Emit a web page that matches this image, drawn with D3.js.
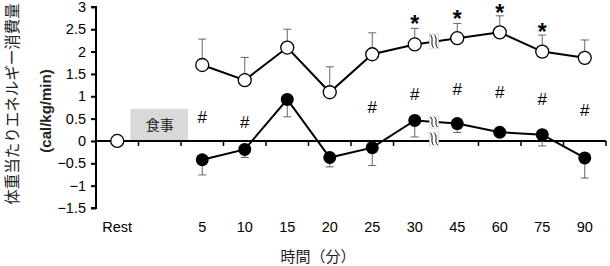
<!DOCTYPE html>
<html><head><meta charset="utf-8">
<script src="https://cdn.jsdelivr.net/npm/d3@7"></script>
<style>body{margin:0;background:#fff}svg{display:block}</style>
</head><body>
<svg id="c" width="610" height="266"></svg>
<script>
const categories = ["Rest", "", "5", "10", "15", "20", "25", "30", "45", "60", "75", "90"];
const openCats = ["5", "10", "15", "20", "25", "30", "45", "60", "75", "90"];
const openVals = [1.70, 1.36, 2.09, 1.09, 1.94, 2.16, 2.30, 2.43, 2.00, 1.86];
const openErr  = [0.58, 0.51, 0.41, 0.57, 0.48, 0.36, 0.33, 0.37, 0.37, 0.40];
const fillVals = [-0.42, -0.19, 0.93, -0.37, -0.15, 0.46, 0.39, 0.195, 0.14, -0.38];
const fillErr  = [0.34, 0.18, 0.39, 0.21, 0.40, 0.37, 0.20, 0.0, 0.25, 0.45];
const restVal = 0;
const starCats = ["30", "45", "60", "75"];
const starVals = [2.71, 2.81, 2.95, 2.53];
const hashCats = ["5", "10", "25", "30", "45", "60", "75", "90"];
const hashVals = [0.53, 0.42, 0.75, 1.04, 1.17, 1.09, 0.95, 0.70];
const yTicks = [3, 2.5, 2, 1.5, 1, 0.5, 0, -0.5, -1, -1.5];

const svg = d3.select("#c");
const x = d3.scaleBand().domain(categories).range([96, 606]);
const y = d3.scaleLinear().domain([-1.5, 3]).range([208, 6.9]);
const cx = c => x(c) + x.bandwidth() / 2;
const font = "'Liberation Sans', Arial, sans-serif";

// food box
svg.append("rect").attr("x", x("") - 8).attr("y", y(0.72)).attr("width", x.bandwidth() + 15)
  .attr("height", y(0) - y(0.72) - 1).attr("fill", "#d9d9d9");
svg.append("text").attr("x", cx("") + 0).attr("y", y(0.36) + 5).attr("text-anchor", "middle")
  .attr("font-family", "'Noto Sans CJK JP', sans-serif").attr("font-size", 14).attr("fill", "#222").text("食事");

// y axis
const ya = svg.append("g").attr("transform", "translate(96,0)")
  .call(d3.axisLeft(y).tickValues(yTicks).tickSize(5).tickFormat(d3.format("")));
ya.select(".domain").attr("stroke", "#000").attr("stroke-width", 2).attr("d", `M-5,${y(3)}H0V${y(-1.5)}H-5`);
ya.selectAll(".tick line").attr("stroke", "#000").attr("stroke-width", 2);
ya.selectAll(".tick text").attr("font-family", font).attr("font-size", 14.5).attr("fill", "#000").attr("x", -10);

// x axis at zero
const xa = svg.append("g").attr("transform", `translate(0,${y(0)})`);
xa.append("line").attr("x1", 96).attr("x2", 606).attr("stroke", "#000").attr("stroke-width", 2);
const boundaries = categories.map(c => x(c)).concat([x.range()[1]]).slice(1);
xa.selectAll("line.t").data(boundaries).enter().append("line").attr("class", "t")
  .attr("x1", d => d).attr("x2", d => d).attr("y1", 0).attr("y2", 5).attr("stroke", "#000").attr("stroke-width", 1.5);

// x tick labels
svg.selectAll("text.xl").data(categories.filter(c => c !== "")).enter().append("text").attr("class", "xl")
  .attr("x", d => cx(d)).attr("y", 232).attr("text-anchor", "middle")
  .attr("font-family", font).attr("font-size", 14.5).attr("fill", "#000").text(d => d);

// error bars
function errBars(vals, errs, dir) {
  const g = svg.append("g").attr("stroke", "#666").attr("stroke-width", 1);
  openCats.forEach((c, i) => {
    if (errs[i] <= 0) return;
    const y1 = y(vals[i]), y2 = y(vals[i] + dir * errs[i]);
    g.append("line").attr("x1", cx(c)).attr("x2", cx(c)).attr("y1", y1).attr("y2", y2);
    g.append("line").attr("x1", cx(c) - 4).attr("x2", cx(c) + 4).attr("y1", y2).attr("y2", y2);
  });
}
errBars(fillVals, fillErr, -1);
errBars(openVals, openErr, 1);

// lines
const line = d3.line().x(d => cx(d[0])).y(d => y(d[1]));
svg.append("path").attr("d", line(openCats.map((c, i) => [c, fillVals[i]]))).attr("fill", "none").attr("stroke", "#000").attr("stroke-width", 2);
svg.append("path").attr("d", line(openCats.map((c, i) => [c, openVals[i]]))).attr("fill", "none").attr("stroke", "#000").attr("stroke-width", 2);

// break marks between 30 and 45
const bx = (cx("30") + cx("45")) / 2 - 2;
function brk(yc, h) {
  const g = svg.append("g").attr("transform", `translate(${bx},${yc})`);
  g.append("rect").attr("x", -4.5).attr("y", -h / 2).attr("width", 9).attr("height", h).attr("fill", "#fff").attr("stroke", "#ccc").attr("stroke-width", 0.7);
  [-2, 2].forEach(o => {
    g.append("path").attr("d", `M${o - 1.5},${-h / 2 + 1} C${o + 2},${-h / 6} ${o - 2},${h / 6} ${o + 1.5},${h / 2 - 1}`)
      .attr("fill", "none").attr("stroke", "#000").attr("stroke-width", 1);
  });
}
brk(y((openVals[5] + openVals[6]) / 2), 15);
brk(y((fillVals[5] + fillVals[6]) / 2), 12);
brk(y(0) - 2, 14);

// markers
svg.selectAll("circle.f").data(openCats).enter().append("circle").attr("class", "f")
  .attr("cx", d => cx(d)).attr("cy", (d, i) => y(fillVals[i])).attr("r", 6.5).attr("fill", "#000");
svg.selectAll("circle.o").data(openCats).enter().append("circle").attr("class", "o")
  .attr("cx", d => cx(d)).attr("cy", (d, i) => y(openVals[i])).attr("r", 6.5).attr("fill", "#fff").attr("stroke", "#000").attr("stroke-width", 1.3);
svg.append("circle").attr("cx", cx("Rest")).attr("cy", y(restVal)).attr("r", 6.5).attr("fill", "#fff").attr("stroke", "#000").attr("stroke-width", 1.3);

// annotations
svg.selectAll("text.s").data(starCats).enter().append("text").attr("class", "s")
  .attr("x", d => cx(d)).attr("y", (d, i) => y(starVals[i]) + 12).attr("text-anchor", "middle")
  .attr("font-family", font).attr("font-size", 23).attr("font-weight", "bold").text("*");
svg.selectAll("text.h").data(hashCats).enter().append("text").attr("class", "h")
  .attr("x", d => cx(d)).attr("y", (d, i) => y(hashVals[i]) + 6).attr("text-anchor", "middle")
  .attr("font-family", font).attr("font-size", 17).text("#");

// axis titles
svg.append("text").attr("transform", "translate(18,104) rotate(-90)").attr("text-anchor", "middle")
  .attr("font-family", "'Noto Sans CJK JP', sans-serif").attr("font-size", 15.5).attr("fill", "#222").text("体重当たりエネルギー消費量");
svg.append("text").attr("transform", "translate(51,111) rotate(-90)").attr("text-anchor", "middle")
  .attr("font-family", font).attr("font-size", 15).attr("font-weight", "bold").attr("fill", "#222").text("(cal/kg/min)");
svg.append("text").attr("x", 318).attr("y", 262).attr("text-anchor", "middle")
  .attr("font-family", "'Noto Sans CJK JP', sans-serif").attr("font-size", 15).attr("fill", "#222").text("時間（分）");
</script>
</body></html>
